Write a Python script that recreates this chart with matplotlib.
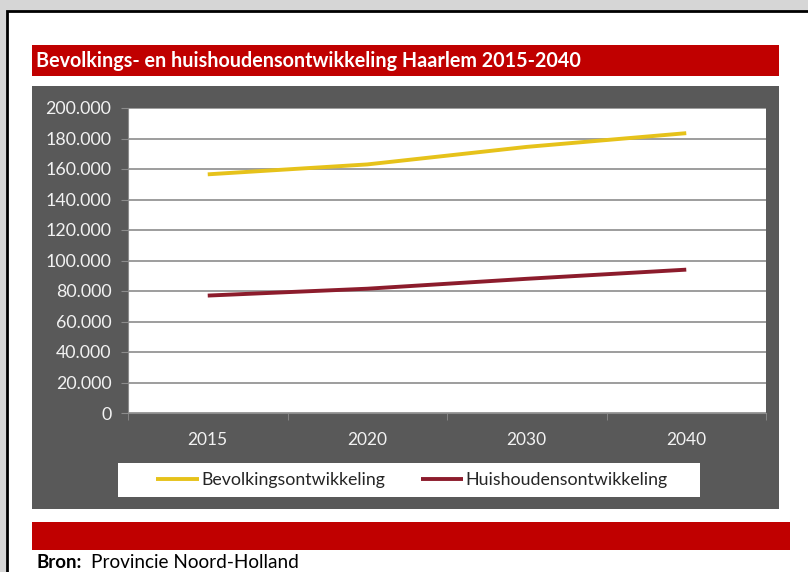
import matplotlib
matplotlib.use("Agg")
import matplotlib.pyplot as plt
from matplotlib.patches import Rectangle

plt.rcParams['font.family'] = ['Lato', 'DejaVu Sans']

# Data
jaren = ["2015", "2020", "2030", "2040"]
bevolking = [156500, 163000, 174500, 183500]
huishoudens = [77000, 81500, 88000, 94000]
y_ticks = list(range(0, 200001, 20000))

W, H = 808, 572
fig = plt.figure(figsize=(W / 100, H / 100), dpi=100)
fig.patch.set_facecolor("#d6d6d6")


def box(x0, y0, x1, y1, z=-5, **kw):
    """Rectangle in pixel coordinates measured from the top-left corner."""
    r = Rectangle((x0 / W, 1 - y1 / H), (x1 - x0) / W, (y1 - y0) / H,
                  transform=fig.transFigure, zorder=z, **kw)
    fig.add_artist(r)
    return r


# White page with black frame
box(7, 11, 812, 580, z=-10, facecolor="white", edgecolor="black", linewidth=2.0)

# Title bar
box(32, 45, 779, 76, facecolor="#c00000", edgecolor="none")
fig.text(36 / W, 1 - 61 / H, "Bevolkings- en huishoudensontwikkeling Haarlem 2015-2040",
         color="white", fontsize=14.2, fontweight="bold", va="center", ha="left")

# Dark chart panel
box(32, 86, 779, 509, facecolor="#595959", edgecolor="none")

# Bottom red bar and source line
box(32, 522, 790, 550, facecolor="#c00000", edgecolor="none")
fig.text(36 / W, 1 - 562 / H, "Bron:", fontsize=13.5, fontweight="bold",
         va="center", ha="left", color="black")
fig.text(91 / W, 1 - 562 / H, "Provincie Noord-Holland", fontsize=13.7,
         va="center", ha="left", color="black")

# Plot area
px0, px1, py0, py1 = 128, 766, 108, 413
ax = fig.add_axes([px0 / W, 1 - py1 / H, (px1 - px0) / W, (py1 - py0) / H])
ax.set_facecolor("white")
x = list(range(len(jaren)))
l1, = ax.plot(x, bevolking, color="#e6c21a", linewidth=2.8, solid_capstyle="butt",
              label="Bevolkingsontwikkeling")
l2, = ax.plot(x, huishoudens, color="#8c1c2c", linewidth=2.8, solid_capstyle="butt",
              label="Huishoudensontwikkeling")

ax.set_xlim(-0.5, len(jaren) - 0.5)
ax.set_ylim(0, 200000)
ax.set_yticks(y_ticks)
ax.set_yticklabels([f"{v:,}".replace(",", ".") for v in y_ticks])
ax.yaxis.grid(True, color="#8c8c8c", linewidth=1.2)
ax.set_axisbelow(True)

ax.set_xticks(x)
ax.set_xticklabels(jaren)
ax.set_xticks([i + 0.5 for i in range(-1, len(jaren))], minor=True)
ax.tick_params(axis="x", which="major", length=0, pad=14, labelsize=12.5)
ax.tick_params(axis="x", which="minor", length=5, color="#8c8c8c", direction="out")
ax.tick_params(axis="y", length=5, color="#8c8c8c", labelsize=12.8, pad=7)
for lab in ax.get_yticklabels() + ax.get_xticklabels():
    lab.set_color("#f2f2f2")

for s in ["top", "right"]:
    ax.spines[s].set_visible(False)
ax.spines["left"].set_color("#8c8c8c")
ax.spines["bottom"].set_color("#8c8c8c")

# Legend on a white strip
lx0, ly0, lx1, ly1 = 118, 463, 700, 497
box(lx0, ly0, lx1, ly1, z=-1, facecolor="white", edgecolor="none")
leg = fig.legend(handles=[l1, l2], loc="center",
                 bbox_to_anchor=(412 / W, 1 - ((ly0 + ly1) / 2) / H),
                 ncol=2, frameon=False, fontsize=12.8,
                 handlelength=2.4, handletextpad=0.12, columnspacing=2.0,
                 labelcolor="#262626")

fig.savefig("out.png", dpi=100, facecolor=fig.get_facecolor())
